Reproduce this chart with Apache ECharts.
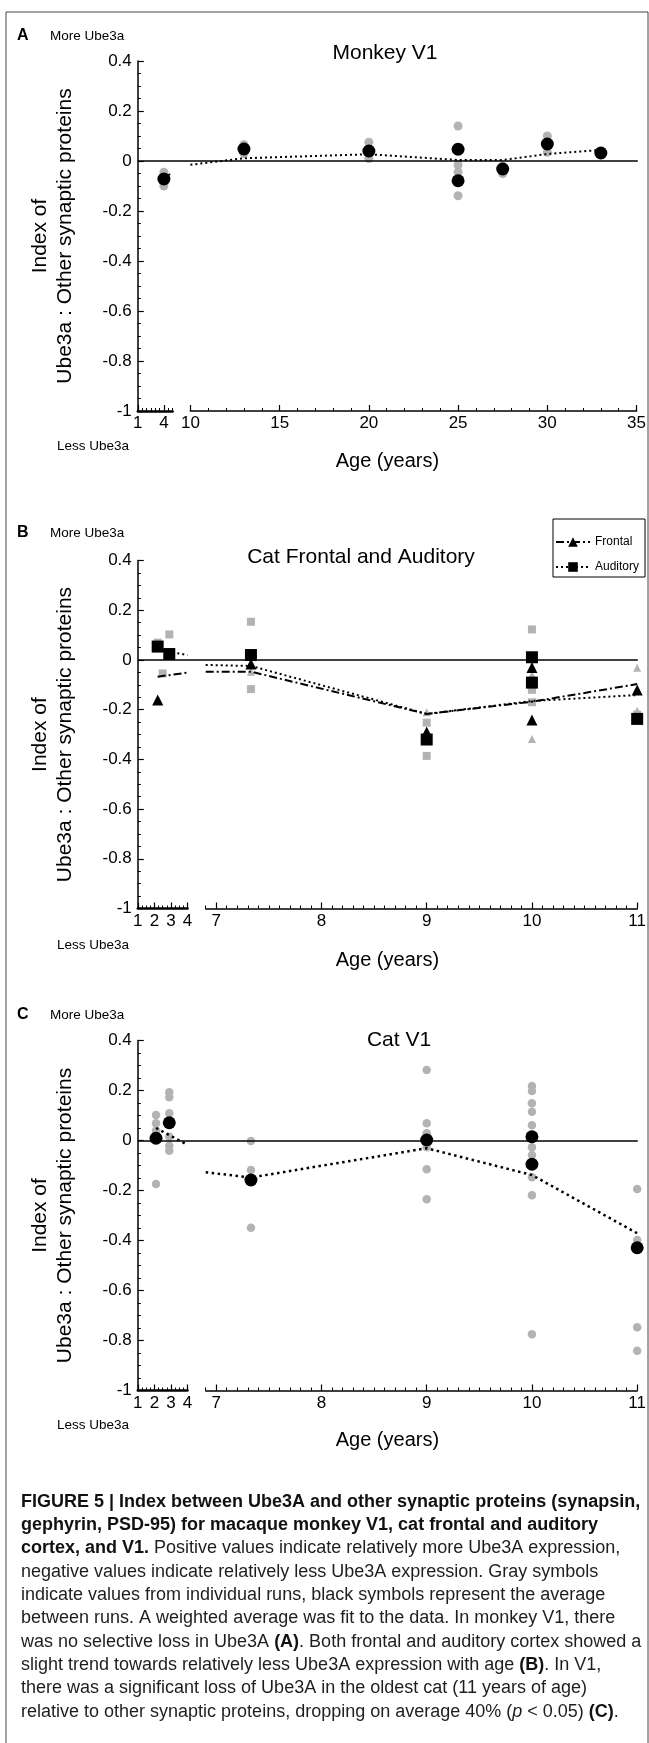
<!DOCTYPE html>
<html>
<head>
<meta charset="utf-8">
<title>Figure 5 - Ube3A index</title>
<script src="https://cdn.jsdelivr.net/npm/echarts@6/dist/echarts.min.js"></script>
<style>
  html, body { margin: 0; padding: 0; background: #fff; }
  #chart { width: 649px; height: 1743px; }
</style>
</head>
<body>
<div id="chart"></div>
<script>
// values: [age in years, index]
const monkeyAgeTicksEarly = [1, 4]
const monkeyAgeTicks = [10, 15, 20, 25, 30, 35]
const catAgeTicksEarly = [1, 2, 3, 4]
const catAgeTicks = [7, 8, 9, 10, 11]

// A - monkey V1
const monkeyAvg = [[4, -0.072], [13, 0.048], [20, 0.04], [25, 0.047], [25, -0.079], [27.5, -0.032], [30, 0.068], [33, 0.032]]
const monkeyRuns = [[4, -0.045], [4, -0.1], [13, 0.065], [13, 0.03], [20, 0.075], [20, 0.01], [25, 0.14], [25, -0.016],
  [25, -0.045], [25, -0.139], [27.5, -0.05], [27.5, -0.02], [30, 0.1], [30, 0.035]]
const monkeyFit = [[4, -0.065], [5, -0.048], [10, -0.015], [13, 0.011], [20, 0.027], [25, 0.004], [27.5, 0.004], [30, 0.028], [33, 0.044]]

// B - cat frontal and auditory
const frontalAvg = [[2.2, -0.161], [7.33, -0.016], [9, -0.29], [10, -0.03], [10, -0.241], [11, -0.121]]
const frontalRuns = [[2.3, -0.165], [7.33, -0.047], [9, -0.21], [10, -0.06], [10, -0.318], [11, -0.031], [11, -0.204]]
const frontalFit = [[2.2, -0.067], [4, -0.051], [6.9, -0.047], [7.33, -0.047], [9, -0.217], [10, -0.168], [11, -0.097]]
const auditoryAvg = [[2.2, 0.054], [2.9, 0.024], [7.33, 0.02], [9, -0.32], [10, 0.011], [10, -0.091], [11, -0.237]]
const auditoryRuns = [[2.2, 0.07], [2.9, 0.103], [2.5, -0.054], [7.33, 0.154], [7.33, -0.117], [9, -0.252], [9, -0.386],
  [10, 0.123], [10, -0.12], [10, -0.17], [11, -0.22]]
const auditoryFit = [[2.2, 0.042], [4, 0.02], [6.9, -0.02], [7.33, -0.024], [9, -0.217], [10, -0.165], [11, -0.141]]

// C - cat V1
const catV1Avg = [[2.1, 0.009], [2.9, 0.071], [7.33, -0.158], [9, 0.002], [10, 0.015], [10, -0.095], [11, -0.429]]
const catV1Runs = [[2.1, 0.102], [2.1, 0.069], [2.1, 0.04], [2.1, 0.025], [2.1, -0.174],
  [2.9, 0.193], [2.9, 0.173], [2.9, 0.109], [2.9, 0.015], [2.9, -0.021], [2.9, -0.041],
  [7.33, -0.002], [7.33, -0.118], [7.33, -0.349],
  [9, 0.282], [9, 0.069], [9, 0.029], [9, -0.027], [9, -0.115], [9, -0.235],
  [10, 0.218], [10, 0.198], [10, 0.149], [10, 0.115], [10, 0.061], [10, -0.027], [10, -0.058], [10, -0.147], [10, -0.219], [10, -0.775],
  [11, -0.194], [11, -0.398], [11, -0.747], [11, -0.841]]
const catV1Fit = [[2.1, 0.05], [3.85, -0.012], [6.9, -0.127], [7.33, -0.148], [9, -0.031], [10, -0.138], [11, -0.371]]

const indexMin = -1
const indexMax = 0.4
const indexStep = 0.2

const FONT = '"Liberation Sans", Arial, Helvetica, sans-serif'
const GRAY = '#b3b3b3'
const INK = '#000'

const catEarly = { left: 137.8, width: 49.7, min: 1, max: 4, step: 0.25, ticks: catAgeTicksEarly, line: 2.5 }
const catLate = { left: 205.7, width: 432.9, min: 6.9, max: 11, step: 0.1, ticks: catAgeTicks, line: 1.5 }

const layout = [
  {
    letter: 'A', title: 'Monkey V1', top: 61, height: 350, titleX: 385, titleY: 53,
    moreY: 36, lessY: 446, ageY: 461,
    early: { left: 137.8, width: 34.8, min: 1, max: 5, step: 0.5, ticks: monkeyAgeTicksEarly, line: 2.5 },
    late: { left: 190.4, width: 449.1, min: 10, max: 35, step: 1, ticks: monkeyAgeTicks, line: 1.5 },
  },
  {
    letter: 'B', title: 'Cat Frontal and Auditory', top: 560.6, height: 347.9, titleX: 361, titleY: 557,
    moreY: 533, lessY: 945, ageY: 960, early: catEarly, late: catLate,
  },
  {
    letter: 'C', title: 'Cat V1', top: 1040.5, height: 350, titleX: 399, titleY: 1040,
    moreY: 1015, lessY: 1425, ageY: 1440, early: catEarly, late: catLate,
  },
]

const grid = []
const xAxis = []
const yAxis = []

layout.forEach((L, p) => {
  grid.push({ left: 137.8, top: L.top, width: 500, height: L.height })
  grid.push({ left: L.early.left, top: L.top, width: L.early.width, height: L.height })
  grid.push({ left: L.late.left, top: L.top, width: L.late.width, height: L.height })

  xAxis.push({ type: 'value', gridIndex: 3 * p, min: 0, max: 1, show: false })
  ;[L.early, L.late].forEach((s, k) => {
    const g = 3 * p + 1 + k
    xAxis.push({
      type: 'value', gridIndex: g, position: 'bottom', min: s.min, max: s.max, interval: s.step,
      axisLine: { onZero: false, lineStyle: { color: INK, width: s.line } },
      axisTick: { inside: true, length: 3, lineStyle: { color: INK, width: 1 } },
      axisLabel: { show: false },
      splitLine: { show: false },
    })
    xAxis.push({
      type: 'value', gridIndex: g, position: 'bottom', min: s.min, max: s.max,
      axisLine: { show: false, onZero: false },
      axisTick: { show: true, inside: true, length: 6, customValues: s.ticks, lineStyle: { color: INK, width: 1.2 } },
      axisLabel: { customValues: s.ticks, color: INK, fontSize: 17, fontFamily: FONT, margin: 4 },
      splitLine: { show: false },
    })
  })

  yAxis.push({
    type: 'value', gridIndex: 3 * p, min: indexMin, max: indexMax, interval: indexStep,
    axisLine: { show: true, onZero: false, lineStyle: { color: INK, width: 1.5 } },
    axisTick: { show: true, inside: true, length: 6, lineStyle: { color: INK, width: 1.2 } },
    minorTick: { show: true, splitNumber: 4, length: 3, lineStyle: { color: INK, width: 1 } },
    axisLabel: { color: INK, fontSize: 17, fontFamily: FONT, margin: 6 },
    splitLine: { show: false },
    name: 'Index of\nUbe3a : Other synaptic proteins',
    nameLocation: 'middle', nameRotate: 90, nameGap: 60,
    nameTextStyle: { color: INK, fontSize: 21, lineHeight: 25, fontFamily: FONT },
  })
  yAxis.push({ type: 'value', gridIndex: 3 * p + 1, min: indexMin, max: indexMax, show: false })
  yAxis.push({ type: 'value', gridIndex: 3 * p + 2, min: indexMin, max: indexMax, show: false })
})

// one series per axis segment, points routed by age
function onSegments(p, base, pts) {
  const L = layout[p]
  return [L.early, L.late].map((s, k) => Object.assign({}, base, {
    xAxisIndex: 5 * p + 2 + 2 * k,
    yAxisIndex: 3 * p + 1 + k,
    data: pts.filter((d) => d[0] >= s.min && d[0] <= s.max),
  }))
}

const runDot = (symbol, size) => ({
  type: 'scatter', symbol, symbolSize: size, itemStyle: { color: GRAY, opacity: 1 }, silent: true, z: 2,
})
const avgDot = (symbol, size) => ({
  type: 'scatter', symbol, symbolSize: size, itemStyle: { color: INK, opacity: 1 }, silent: true, z: 4,
})
const fitLine = (dash, width) => ({
  type: 'line', symbol: 'none', showSymbol: false, silent: true, z: 3,
  lineStyle: { color: INK, width, type: dash },
})
const zeroLine = (p) => ({
  type: 'line', xAxisIndex: 5 * p, yAxisIndex: 3 * p, data: [], silent: true,
  markLine: {
    silent: true, symbol: 'none', label: { show: false },
    lineStyle: { color: INK, type: 'solid', width: 1.5 },
    data: [{ yAxis: 0 }],
  },
})

const DASH_DOT = [8, 3, 2, 3]
const DOTS = [2, 3]

const series = [
  zeroLine(0),
  ...onSegments(0, runDot('circle', 9), monkeyRuns),
  ...onSegments(0, fitLine(DOTS, 2), monkeyFit),
  ...onSegments(0, avgDot('circle', 13), monkeyAvg),

  zeroLine(1),
  { type: 'line', name: 'Frontal', xAxisIndex: 5, yAxisIndex: 3, data: [], symbol: 'triangle', symbolSize: 11,
    itemStyle: { color: INK }, lineStyle: { color: INK, width: 2, type: DASH_DOT } },
  { type: 'line', name: 'Auditory', xAxisIndex: 5, yAxisIndex: 3, data: [], symbol: 'rect', symbolSize: 12,
    itemStyle: { color: INK }, lineStyle: { color: INK, width: 2, type: DOTS } },
  ...onSegments(1, runDot('rect', 8), auditoryRuns),
  ...onSegments(1, runDot('triangle', 8), frontalRuns),
  ...onSegments(1, fitLine(DASH_DOT, 2), frontalFit),
  ...onSegments(1, fitLine(DOTS, 2), auditoryFit),
  ...onSegments(1, avgDot('rect', 12), auditoryAvg),
  ...onSegments(1, avgDot('triangle', 11), frontalAvg),

  zeroLine(2),
  ...onSegments(2, runDot('circle', 8.5), catV1Runs),
  ...onSegments(2, fitLine([2.5, 3.5], 2.5), catV1Fit),
  ...onSegments(2, avgDot('circle', 13), catV1Avg),
]

function label(text, x, y, size, extra) {
  return {
    type: 'text', silent: true,
    style: Object.assign({
      text, x, y, fill: INK, fontSize: size, fontFamily: FONT,
      align: 'left', verticalAlign: 'middle', textAlign: 'left', textVerticalAlign: 'middle',
    }, extra || {}),
  }
}

const center = { align: 'center', textAlign: 'center' }

const captionLines = [
  '{b|FIGURE 5 | Index between Ube3A and other synaptic proteins (synapsin,}',
  '{b|gephyrin, PSD-95) for macaque monkey V1, cat frontal and auditory}',
  '{b|cortex, and V1.} Positive values indicate relatively more Ube3A expression,',
  'negative values indicate relatively less Ube3A expression. Gray symbols',
  'indicate values from individual runs, black symbols represent the average',
  'between runs. A weighted average was fit to the data. In monkey V1, there',
  'was no selective loss in Ube3A {b|(A)}. Both frontal and auditory cortex showed a',
  'slight trend towards relatively less Ube3A expression with age {b|(B)}. In V1,',
  'there was a significant loss of Ube3A in the oldest cat (11 years of age)',
  'relative to other synaptic proteins, dropping on average 40% ({i|p} < 0.05) {b|(C)}.',
]
const CAPTION_SIZE = 18

const graphic = [
  { type: 'rect', silent: true, shape: { x: 6, y: 12, width: 642, height: 1760 },
    style: { fill: 'none', stroke: '#444', lineWidth: 1 } },
]
layout.forEach((L) => {
  graphic.push(label(L.letter, 17, L.moreY, 16, { fontWeight: 'bold' }))
  graphic.push(label('More Ube3a', 50, L.moreY, 13.5))
  graphic.push(label('Less Ube3a', 57, L.lessY, 13.5))
  graphic.push(label('Age (years)', 387.4, L.ageY, 20, center))
  graphic.push(label(L.title, L.titleX, L.titleY, 21, center))
})
captionLines.forEach((line, i) => {
  graphic.push(label(line, 21, 1501.7 + i * 23.33, CAPTION_SIZE, {
    fill: '#1e1e1e',
    rich: {
      b: { fontWeight: 'bold', fontSize: CAPTION_SIZE, fontFamily: FONT, fill: '#111' },
      i: { fontStyle: 'italic', fontSize: CAPTION_SIZE, fontFamily: FONT, fill: '#1e1e1e' },
    },
  }))
})

const chart = echarts.init(document.getElementById('chart'), null, { renderer: 'canvas' })
chart.setOption({
  animation: false,
  backgroundColor: '#fff',
  textStyle: { fontFamily: FONT },
  grid,
  xAxis,
  yAxis,
  legend: {
    data: ['Frontal', 'Auditory'],
    orient: 'vertical', left: 553, top: 519,
    padding: [17, 6, 4, 2], itemGap: 13, itemWidth: 34, itemHeight: 12,
    borderColor: INK, borderWidth: 1, selectedMode: false,
    textStyle: { color: INK, fontSize: 12, fontFamily: FONT },
  },
  series,
  graphic,
})
</script>
</body>
</html>
